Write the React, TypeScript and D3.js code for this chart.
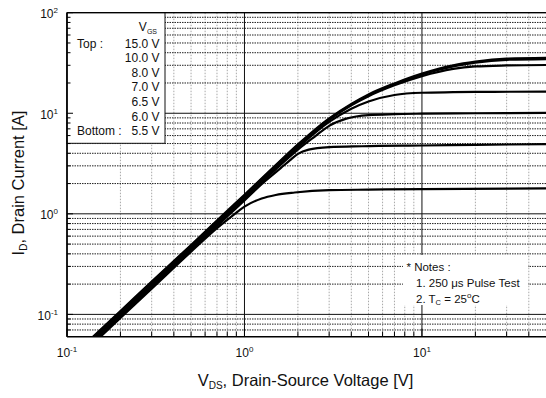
import React from 'react';
import * as d3 from 'd3';

// chart frame
const W = 546;
const H = 398;
const plot = { left: 67, right: 546, top: 12.7, bottom: 336.7 };

// axes
const xDomain: [number, number] = [0.1, 50];
const yDomain: [number, number] = [0.06, 100];
const xMajor = [0.1, 1, 10];
const xMinor = [0.2, 0.3, 0.4, 0.5, 0.6, 0.7, 0.8, 0.9, 2, 3, 4, 5, 6, 7, 8, 9, 20, 30, 40];
const yMajor = [0.1, 1, 10, 100];
const yMinor = [0.07, 0.08, 0.09, 0.2, 0.3, 0.4, 0.5, 0.6, 0.7, 0.8, 0.9, 2, 3, 4, 5, 6, 7, 8, 9, 20, 30, 40, 50, 60, 70, 80, 90];
const xTickExp = ['-1', '0', '1'];
const yTickExp = ['-1', '0', '1', '2'];

// legend
const vgsLabels = ['15.0 V', '10.0 V', '8.0 V', '7.0 V', '6.5 V', '6.0 V', '5.5 V'];

// I_D vs V_DS, one list per V_GS, [V, A]
const vgs15 = [[0.14, 0.06], [0.2, 0.108], [0.3, 0.212], [0.5, 0.49], [0.8, 1.07], [1.0, 1.55], [1.5, 3.05], [2.0, 4.9], [3.0, 8.9], [4.0, 12.4], [5.0, 15.4], [7.0, 19.8], [10, 24.8], [15, 30.0], [20, 32.6], [30, 34.9], [50, 35.6]];
const vgs10 = [[0.14, 0.059], [0.2, 0.106], [0.3, 0.208], [0.5, 0.48], [0.8, 1.05], [1.0, 1.52], [1.5, 3.0], [2.0, 4.8], [3.0, 8.75], [4.0, 12.2], [5.0, 15.1], [7.0, 19.4], [10, 24.3], [15, 29.3], [20, 31.9], [30, 34.0], [50, 34.6]];
const vgs8 = [[0.14, 0.0575], [0.2, 0.104], [0.3, 0.204], [0.5, 0.475], [0.8, 1.03], [1.0, 1.49], [1.5, 2.95], [2.0, 4.72], [3.0, 8.6], [4.0, 12.0], [5.0, 14.8], [7.0, 19.0], [10, 23.4], [15, 27.6], [20, 29.2], [30, 29.9], [50, 30.2]];
const vgs7 = [[0.14, 0.056], [0.2, 0.101], [0.3, 0.198], [0.5, 0.46], [0.8, 1.0], [1.0, 1.45], [1.5, 2.85], [2.0, 4.55], [3.0, 8.2], [4.0, 11.1], [5.0, 13.1], [7.0, 15.2], [10, 16.0], [15, 16.2], [20, 16.3], [50, 16.4]];
const vgs65 = [[0.14, 0.054], [0.2, 0.098], [0.3, 0.192], [0.5, 0.447], [0.8, 0.97], [1.0, 1.41], [1.5, 2.77], [2.0, 4.35], [2.5, 5.9], [3.0, 7.5], [3.75, 8.85], [5.0, 9.6], [7.0, 9.8], [10, 9.9], [20, 10.0], [50, 10.1]];
const vgs6 = [[0.14, 0.0525], [0.2, 0.095], [0.3, 0.186], [0.5, 0.433], [0.8, 0.94], [1.0, 1.36], [1.3, 2.1], [1.6, 2.85], [1.8, 3.4], [2.0, 3.95], [2.3, 4.35], [3.0, 4.6], [4.6, 4.7], [10, 4.78], [20, 4.85], [50, 4.94]];
const vgs55 = [[0.14, 0.051], [0.2, 0.092], [0.3, 0.18], [0.5, 0.42], [0.7, 0.72], [0.85, 0.95], [1.0, 1.18], [1.25, 1.42], [1.5, 1.54], [1.92, 1.63], [3.0, 1.72], [5.0, 1.74], [10, 1.76], [50, 1.79]];
const curves = [vgs15, vgs10, vgs8, vgs7, vgs65, vgs6, vgs55];

const FONT = '"Liberation Sans", Arial, sans-serif';

export default function App() {
  const x = d3.scaleLog().domain(xDomain).range([plot.left, plot.right]);
  const y = d3.scaleLog().domain(yDomain).range([plot.bottom, plot.top]);

  const line = d3
    .line<number[]>()
    .x((d) => x(d[0]))
    .y((d) => y(d[1]))
    .curve(d3.curveMonotoneX);

  return (
    <svg
      width={W}
      height={H}
      style={{ position: 'absolute', left: 0, top: 0, display: 'block', background: '#fff' }}
      fontFamily={FONT}
    >
      <defs>
        <clipPath id="plot-clip">
          <rect x={plot.left} y={plot.top} width={plot.right - plot.left} height={plot.bottom - plot.top} />
        </clipPath>
      </defs>
      <rect width={W} height={H} fill="#fff" />

      {/* minor grid */}
      {xMinor.map((v) => (
        <line key={'xm' + v} x1={x(v)} x2={x(v)} y1={plot.top} y2={plot.bottom}
          stroke="#a8a8a8" strokeWidth={1} strokeDasharray="1.5,1.5" />
      ))}
      {yMinor.map((v) => (
        <line key={'ym' + v} x1={plot.left} x2={plot.right} y1={y(v)} y2={y(v)}
          stroke="#222" strokeWidth={1} strokeDasharray="1.5,1" />
      ))}
      {/* major grid */}
      {xMajor.map((v) => (
        <line key={'xM' + v} x1={x(v)} x2={x(v)} y1={plot.top} y2={plot.bottom} stroke="#111" strokeWidth={1} />
      ))}
      {yMajor.map((v) => (
        <line key={'yM' + v} x1={plot.left} x2={plot.right} y1={y(v)} y2={y(v)} stroke="#111" strokeWidth={1} />
      ))}

      {/* notes box */}
      <rect x={403} y={255} width={125} height={50} fill="#fff" />
      <text fontSize={11.5} fill="#111">
        <tspan x={406.5} y={271}>* Notes :</tspan>
        <tspan x={416} y={287}>1. 250 μs Pulse Test</tspan>
        <tspan x={416} y={302.5}>2. T</tspan>
        <tspan fontSize={7.5} dy={2.5}>C</tspan>
        <tspan dy={-2.5}> = 25</tspan>
        <tspan fontSize={8} dy={-5}>o</tspan>
        <tspan dy={5}>C</tspan>
      </text>

      {/* curves */}
      <g clipPath="url(#plot-clip)">
        {curves.map((c, i) => (
          <path key={i} d={line(c) || ''} fill="none" stroke="#000" strokeWidth={2.2} strokeLinejoin="round" />
        ))}
      </g>

      {/* legend */}
      <rect x={plot.left} y={plot.top} width={98} height={130.6} fill="#fff" stroke="#111" strokeWidth={1} />
      <text fontSize={12} fill="#111" textAnchor="end" x={157} y={30.5}>
        V<tspan fontSize={7} dy={3}>GS</tspan>
      </text>
      {vgsLabels.map((s, i) => (
        <text key={s} x={159.5} y={47.5 + i * 14.6} fontSize={12} fill="#111" textAnchor="end">{s}</text>
      ))}
      <text x={77} y={47.5} fontSize={12} fill="#111">Top :</text>
      <text x={77} y={47.5 + 6 * 14.6} fontSize={12} fill="#111">Bottom :</text>

      {/* frame */}
      <line x1={plot.left} x2={plot.left} y1={plot.top} y2={plot.bottom} stroke="#000" strokeWidth={1.6} />
      <line x1={plot.left} x2={plot.right} y1={plot.bottom} y2={plot.bottom} stroke="#000" strokeWidth={1.6} />
      <line x1={plot.left} x2={plot.right} y1={plot.top} y2={plot.top} stroke="#000" strokeWidth={1.2} />

      {/* ticks */}
      {yMinor.map((v) => (
        <line key={'yt' + v} x1={plot.left} x2={plot.left + 3.5} y1={y(v)} y2={y(v)} stroke="#000" strokeWidth={1} />
      ))}
      {yMajor.map((v) => (
        <line key={'yT' + v} x1={plot.left} x2={plot.left + 6} y1={y(v)} y2={y(v)} stroke="#000" strokeWidth={1} />
      ))}
      {xMinor.map((v) => (
        <line key={'xt' + v} x1={x(v)} x2={x(v)} y1={plot.bottom} y2={plot.bottom - 5} stroke="#000" strokeWidth={1} />
      ))}
      {xMajor.map((v) => (
        <line key={'xT' + v} x1={x(v)} x2={x(v)} y1={plot.bottom} y2={plot.bottom - 8} stroke="#000" strokeWidth={1} />
      ))}

      {/* tick labels */}
      {yMajor.map((v, i) => (
        <text key={'yl' + v} x={58} y={y(v) + 5.5} fontSize={12} fill="#111" textAnchor="end">
          10<tspan fontSize={8} dy={-5}>{yTickExp[i]}</tspan>
        </text>
      ))}
      {xMajor.map((v, i) => (
        <text key={'xl' + v} x={x(v)} y={357} fontSize={12} fill="#111" textAnchor="middle">
          10<tspan fontSize={8} dy={-5}>{xTickExp[i]}</tspan>
        </text>
      ))}

      {/* axis titles */}
      <text x={305.5} y={386} fontSize={16.5} fill="#111" textAnchor="middle">
        V<tspan fontSize={10} dy={3}>DS</tspan><tspan dy={-3}>, Drain-Source Voltage [V]</tspan>
      </text>
      <text transform="translate(24,183) rotate(-90)" fontSize={16.5} fill="#111" textAnchor="middle">
        I<tspan fontSize={10} dy={3}>D</tspan><tspan dy={-3}>, Drain Current [A]</tspan>
      </text>
    </svg>
  );
}
